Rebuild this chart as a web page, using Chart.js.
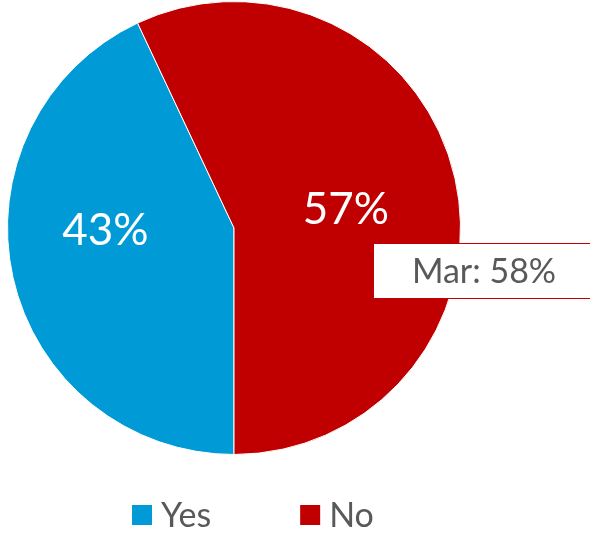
<!DOCTYPE html>
<html>
<head>
<meta charset="utf-8">
<script src="https://cdn.jsdelivr.net/npm/chart.js@4"></script>
<style>
  html, body { margin: 0; padding: 0; background: #fff; }
  #wrap { width: 590px; height: 535px; position: relative; }
</style>
</head>
<body>
<div id="wrap"><canvas id="c"></canvas></div>
<script>
const labels = ['Yes', 'No']
const values = [43, 57]
const colors = ['#009bd6', '#c00000']
const calloutText = 'Mar: 58%'

const FONT = 'Lato, "Open Sans", sans-serif'

// percentage labels inside the slices (angle / radius nudges per slice)
const labelNudge = [{ da: 0.2, r: 0.568 }, { da: 0.06, r: 0.5 }]
const sliceLabels = {
  id: 'sliceLabels',
  afterDatasetsDraw(chart) {
    const { ctx } = chart
    const meta = chart.getDatasetMeta(0)
    ctx.save()
    ctx.fillStyle = '#fff'
    ctx.font = '44px ' + FONT
    ctx.textAlign = 'center'
    ctx.textBaseline = 'middle'
    meta.data.forEach((arc, i) => {
      const mid = (arc.startAngle + arc.endAngle) / 2 + labelNudge[i].da
      const r = arc.outerRadius * labelNudge[i].r
      ctx.fillText(values[i] + '%', arc.x + Math.cos(mid) * r, arc.y + Math.sin(mid) * r)
    })
    ctx.restore()
  },
}

// "Mar" callout box on the right
const callout = {
  id: 'callout',
  afterDraw(chart) {
    const { ctx } = chart
    ctx.save()
    ctx.fillStyle = '#fff'
    ctx.strokeStyle = '#c00000'
    ctx.lineWidth = 1
    ctx.fillRect(373, 244, 230, 55)
    ctx.strokeRect(373.5, 243.5, 230, 55)
    ctx.fillStyle = '#595959'
    ctx.font = '34px ' + FONT
    ctx.textAlign = 'center'
    ctx.textBaseline = 'middle'
    ctx.fillText(calloutText, 484, 272)
    ctx.restore()
  },
}

// legend drawn under the pie, wide gap between items like the original
const bottomLegend = {
  id: 'bottomLegend',
  afterDraw(chart) {
    const { ctx } = chart
    const items = chart.legend.legendItems
    ctx.save()
    ctx.font = '34px ' + FONT
    ctx.textBaseline = 'middle'
    let x = 132
    items.forEach((it) => {
      ctx.fillStyle = it.fillStyle
      ctx.fillRect(x, 505, 20, 20)
      ctx.fillStyle = '#595959'
      ctx.fillText(it.text, x + 29, 516)
      x += 29 + ctx.measureText(it.text).width + 89
    })
    ctx.restore()
  },
}

new Chart(document.getElementById('c'), {
  type: 'pie',
  data: {
    labels,
    datasets: [{
      data: values,
      backgroundColor: colors,
      borderColor: '#fff',
      borderWidth: 1,
    }],
  },
  options: {
    responsive: true,
    maintainAspectRatio: false,
    animation: false,
    rotation: 180,
    layout: { padding: { left: 7, right: 129, top: 1, bottom: 80 } },
    plugins: {
      tooltip: { enabled: false },
      legend: { display: false },
    },
  },
  plugins: [sliceLabels, callout, bottomLegend],
})
</script>
</body>
</html>
